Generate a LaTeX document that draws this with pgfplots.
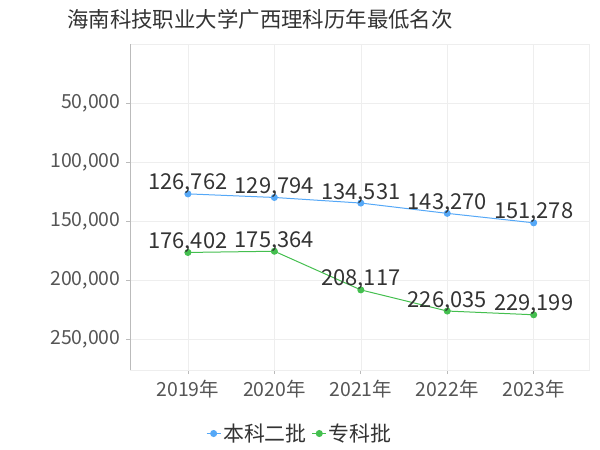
\documentclass[border=0pt]{standalone}
\usepackage{fontspec}
\setmainfont{Noto Sans CJK SC}
\usepackage{pgfplots}
\pgfplotsset{compat=1.18}
\definecolor{serblue}{HTML}{55A8F7}
\definecolor{sergreen}{HTML}{44BF4F}
\definecolor{ticktxt}{HTML}{555555}
\definecolor{labtxt}{HTML}{333333}
\definecolor{gridc}{HTML}{EEEEEE}
\definecolor{axisc}{HTML}{BBBBBB}

\begin{document}
\begin{tikzpicture}[x=1bp,y=1bp]
\path[use as bounding box] (0,0) rectangle (600,450);

% title
\node[font=\fontsize{21.5}{25}\selectfont, text=labtxt] at (260,431) {海南科技职业大学广西理科历年最低名次};

\begin{axis}[
  at={(130bp,80bp)}, anchor=south west,
  scale only axis,
  width=459bp, height=325.7bp,
  xmin=-0.67, xmax=4.64,
  ymin=0, ymax=276000,
  y dir=reverse,
  xtick={0,1,2,3,4},
  xticklabels={2019年,2020年,2021年,2022年,2023年},
  ytick={50000,100000,150000,200000,250000},
  /pgf/number format/assume math mode=true,
  /pgf/number format/.cd, 1000 sep={,}, fixed, /pgfplots/.cd,
  scaled y ticks=false,
  xtick pos=bottom, ytick pos=left,
  tick align=outside,
  major tick length=4bp,
  tick style={axisc, line width=0.8bp},
  grid=major,
  major grid style={gridc, line width=0.6bp},
  axis line style={gridc, line width=0.6bp},
  ticklabel style={font=\fontsize{19.5}{22}\selectfont, text=ticktxt},
  yticklabel style={xshift=-2bp},
  xticklabel style={yshift=-3bp},
  legend style={draw=none, fill=none, at={(0.37,-0.195)}, anchor=center,
    legend columns=2, font=\fontsize{21}{24}\selectfont, text=labtxt,
    /tikz/every even column/.append style={column sep=3bp},
    inner sep=0pt},
  legend image code/.code={%
    \draw[mark repeat=2, mark phase=2] plot coordinates {(0bp,0bp) (7bp,0bp) (14bp,0bp)};},
  nodes near coords,
  point meta=explicit,
  every node near coord/.append style={anchor=base, yshift=4bp, inner sep=0pt,
    font=\fontsize{22}{25}\selectfont, text=labtxt,
    /pgf/number format/.cd, fixed, 1000 sep={,}, precision=0},
]
\addplot[serblue, line width=1bp, mark=*, mark size=3bp, mark options={fill=serblue, draw=serblue}]
  coordinates {(0,126762)[126762] (1,129794)[129794] (2,134531)[134531] (3,143270)[143270] (4,151278)[151278]};
\addlegendentry{本科二批}
\addplot[sergreen, line width=1bp, mark=*, mark size=3bp, mark options={fill=sergreen, draw=sergreen}]
  coordinates {(0,176402)[176402] (1,175364)[175364] (2,208117)[208117] (3,226035)[226035] (4,229199)[229199]};
\addlegendentry{专科批}
\draw[axisc, line width=0.8bp] (rel axis cs:0,0) -- (rel axis cs:0,1);
\draw[axisc, line width=0.8bp] (rel axis cs:0,0) -- (rel axis cs:1,0);
\end{axis}
\end{tikzpicture}
\end{document}
